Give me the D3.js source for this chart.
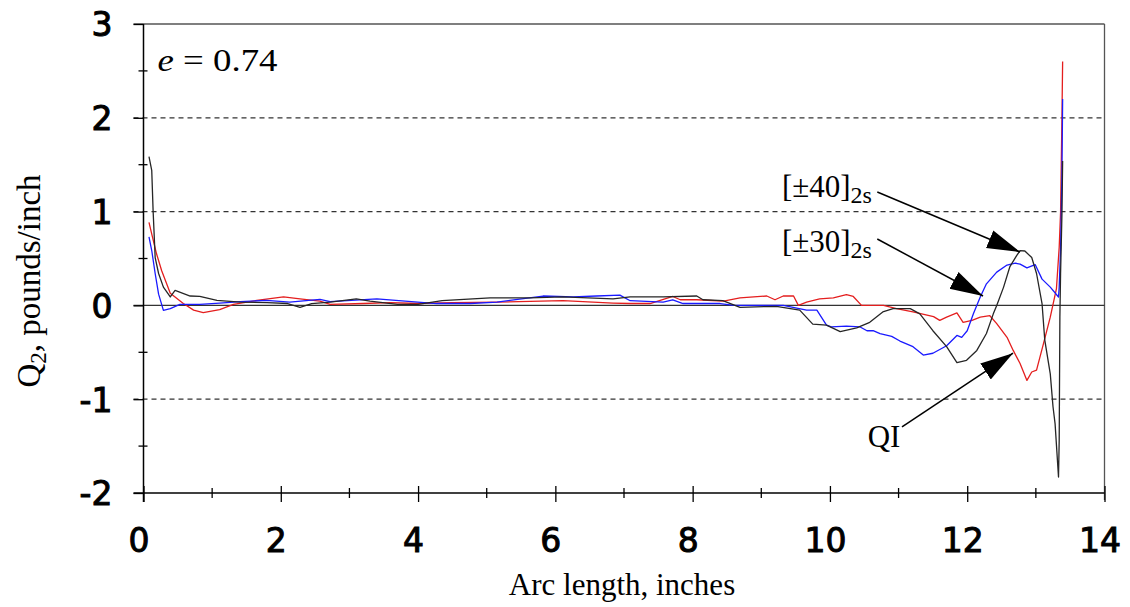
<!DOCTYPE html>
<html>
<head>
<meta charset="utf-8">
<script src="https://cdn.jsdelivr.net/npm/d3@7/dist/d3.min.js"></script>
<style>
  body { margin: 0; background: #fff; }
  svg { display: block; }
</style>
</head>
<body>
<svg id="chart" width="1130" height="607"></svg>
<script>
// Axis ticks
const xTicks = [0, 2, 4, 6, 8, 10, 12, 14];
const xMinorTicks = [1, 3, 5, 7, 9, 11, 13];
const yTicks = [-2, -1, 0, 1, 2, 3];
const yMinorTicks = [-1.5, -0.5, 0.5, 1.5, 2.5];
const gridValues = [-1, 1, 2];

// Q2 (pounds/inch) along the arc length (inches), one array per laminate
const ply40 = [[0.08,1.585],[0.12,1.44],[0.14,1.01],[0.17,0.51],[0.22,0.34],[0.29,0.195],[0.39,0.09],[0.46,0.16],[0.68,0.10],[0.82,0.096],[1.07,0.053],[1.41,0.035],[1.8,0.03],[2.1,0.02],[2.28,-0.02],[2.45,0.02],[2.72,0.035],[3.1,0.07],[3.3,0.045],[3.7,0.01],[4.0,0.01],[4.35,0.05],[5.05,0.08],[5.63,0.08],[6.11,0.09],[6.84,0.07],[7.09,0.09],[7.57,0.09],[8.06,0.10],[8.15,0.06],[8.44,0.05],[8.69,-0.02],[9.22,-0.01],[9.56,-0.05],[9.75,-0.2],[9.95,-0.21],[10.15,-0.28],[10.39,-0.24],[10.58,-0.18],[10.77,-0.07],[10.92,-0.035],[11.17,-0.035],[11.31,-0.09],[11.5,-0.27],[11.7,-0.44],[11.85,-0.61],[11.99,-0.585],[12.14,-0.48],[12.28,-0.30],[12.38,-0.09],[12.43,0.0],[12.53,0.195],[12.62,0.41],[12.72,0.53],[12.77,0.585],[12.84,0.58],[12.94,0.51],[13.01,0.34],[13.09,0.02],[13.13,-0.37],[13.21,-0.73],[13.25,-1.08],[13.28,-1.26],[13.33,-1.83],[13.34,-1.44],[13.35,-0.12],[13.36,0.34],[13.38,0.975],[13.39,1.54]];

const ply30 = [[0.08,0.73],[0.12,0.585],[0.17,0.34],[0.22,0.12],[0.29,-0.053],[0.39,-0.035],[0.53,0.01],[0.82,0.01],[1.11,0.025],[1.41,0.04],[1.79,0.053],[2.13,0.035],[2.57,0.064],[2.72,0.04],[3.4,0.07],[4.27,0.02],[4.76,0.02],[5.15,0.035],[5.82,0.1],[6.26,0.09],[6.6,0.1],[6.94,0.11],[7.09,0.05],[7.57,0.035],[7.71,0.06],[7.86,0.02],[8.4,0.02],[8.6,0.0],[9.32,0.0],[9.66,-0.05],[9.81,-0.05],[9.95,-0.21],[10.02,-0.23],[10.24,-0.22],[10.44,-0.23],[10.54,-0.27],[10.63,-0.27],[10.73,-0.30],[10.9,-0.33],[11.02,-0.38],[11.21,-0.44],[11.36,-0.53],[11.5,-0.51],[11.7,-0.43],[11.85,-0.32],[11.92,-0.34],[12.0,-0.27],[12.09,-0.09],[12.19,0.09],[12.28,0.23],[12.43,0.355],[12.58,0.43],[12.7,0.45],[12.77,0.44],[12.87,0.40],[12.99,0.435],[13.09,0.28],[13.21,0.195],[13.33,0.09],[13.34,0.195],[13.36,0.6],[13.38,1.4],[13.39,2.2]];

const plyQI = [[0.08,0.886],[0.13,0.73],[0.19,0.55],[0.265,0.37],[0.39,0.13],[0.58,0.02],[0.73,-0.05],[0.87,-0.078],[1.11,-0.046],[1.31,0.01],[1.65,0.053],[2.04,0.09],[2.28,0.07],[2.57,0.046],[2.72,0.01],[3.2,0.02],[3.6,0.03],[4.0,0.02],[4.5,0.03],[5.15,0.035],[6.11,0.05],[6.84,0.025],[7.09,0.02],[7.38,0.02],[7.71,0.095],[7.82,0.06],[8.06,0.06],[8.45,0.045],[8.69,0.08],[9.08,0.10],[9.2,0.06],[9.32,0.10],[9.47,0.10],[9.54,0.0],[9.66,0.035],[9.85,0.07],[10.05,0.08],[10.24,0.115],[10.34,0.095],[10.46,0.0],[10.78,0.0],[10.97,-0.035],[11.21,-0.07],[11.51,-0.12],[11.6,-0.16],[11.7,-0.125],[11.85,-0.08],[11.94,-0.18],[12.07,-0.16],[12.19,-0.125],[12.33,-0.11],[12.43,-0.195],[12.58,-0.34],[12.67,-0.48],[12.77,-0.62],[12.87,-0.80],[12.94,-0.71],[13.01,-0.69],[13.11,-0.41],[13.21,-0.125],[13.30,0.18],[13.34,0.62],[13.36,0.99],[13.38,2.0],[13.39,2.6]];

// Callouts: label anchor, leader start and arrow tip in data units
const calloutLabels = ['[±40]', '[±30]', 'QI'];
const calloutSubs = ['2s', '2s', ''];
const calloutText = [[9.30, 1.156], [9.30, 0.569], [10.55, -1.51]];
const calloutFrom = [[10.69, 1.209], [10.69, 0.708], [11.05, -1.296]];
const calloutTip = [[12.77, 0.569], [12.23, 0.100], [12.667, -0.510]];

const svg = d3.select('#chart');
const x = d3.scaleLinear().domain([0, 14]).range([143.5, 1104.5]);
const y = d3.scaleLinear().domain([-2, 3]).range([493, 24]);

const tickFont = "'DejaVu Sans', sans-serif";
const serif = "'Liberation Serif', 'Times New Roman', serif";

// Frame: top and right edges
svg.append('line').attr('x1', x(0) - 10).attr('x2', x(14)).attr('y1', y(3)).attr('y2', y(3))
  .attr('stroke', '#555').attr('stroke-width', 1.3);
svg.append('line').attr('x1', x(14)).attr('x2', x(14)).attr('y1', y(3)).attr('y2', y(-2) + 7)
  .attr('stroke', '#555').attr('stroke-width', 1.3);

// Dashed gridlines
svg.append('g').selectAll('line').data(gridValues).join('line')
  .attr('x1', x(0) - 10).attr('x2', x(14))
  .attr('y1', d => y(d)).attr('y2', d => y(d))
  .attr('stroke', '#333').attr('stroke-width', 1.2)
  .attr('stroke-dasharray', '5,4');

// Zero line
svg.append('line').attr('x1', x(0) - 10).attr('x2', x(14)).attr('y1', y(0)).attr('y2', y(0))
  .attr('stroke', '#333').attr('stroke-width', 1.3);

// Y axis
const yAxis = svg.append('g').attr('transform', `translate(${x(0)},0)`)
  .call(d3.axisLeft(y).tickValues(yTicks).tickSize(10).tickPadding(21).tickFormat(d3.format('d')));
yAxis.select('.domain').remove();
yAxis.selectAll('.tick line').attr('stroke', '#000').attr('stroke-width', 1.3);
yAxis.selectAll('.tick text')
  .attr('font-family', tickFont).attr('font-size', 33)
  .attr('fill', '#000').attr('stroke', '#000').attr('stroke-width', 1)
  .attr('dy', '0.36em')
  .text(d => d < 0 ? '-' + Math.abs(d) : d);
svg.append('line').attr('x1', x(0)).attr('x2', x(0)).attr('y1', y(3)).attr('y2', y(-2) + 9)
  .attr('stroke', '#000').attr('stroke-width', 1.5);
svg.append('g').selectAll('line').data(yMinorTicks).join('line')
  .attr('x1', x(0) - 5).attr('x2', x(0) + 4)
  .attr('y1', d => y(d)).attr('y2', d => y(d))
  .attr('stroke', '#000').attr('stroke-width', 1.3);

// X axis
const xAxis = svg.append('g').attr('transform', `translate(0,${y(-2)})`)
  .call(d3.axisBottom(x).tickValues(xTicks).tickSize(9).tickFormat(d3.format('d')));
xAxis.select('.domain').remove();
xAxis.selectAll('.tick line').attr('y1', -7).attr('stroke', '#000').attr('stroke-width', 1.3);
xAxis.selectAll('.tick text')
  .attr('font-family', tickFont).attr('font-size', 33)
  .attr('fill', '#000').attr('stroke', '#000').attr('stroke-width', 1)
  .attr('y', 59).attr('dy', null).attr('dx', -5);
svg.append('line').attr('x1', x(0) - 10).attr('x2', x(14)).attr('y1', y(-2)).attr('y2', y(-2))
  .attr('stroke', '#000').attr('stroke-width', 1.5);
svg.append('g').selectAll('line').data(xMinorTicks).join('line')
  .attr('x1', d => x(d)).attr('x2', d => x(d))
  .attr('y1', y(-2) - 5).attr('y2', y(-2) + 5)
  .attr('stroke', '#000').attr('stroke-width', 1.3);

// Curves
const line = d3.line().x(d => x(d[0])).y(d => y(d[1]));
[[plyQI, '#e41e1e'], [ply30, '#1a1aff'], [ply40, '#262626']].forEach(([data, color]) => {
  svg.append('path').datum(data).attr('d', line)
    .attr('fill', 'none').attr('stroke', color).attr('stroke-width', 1.3)
    .attr('stroke-linejoin', 'round');
});

// Callout arrows
svg.append('defs').append('marker')
  .attr('id', 'head').attr('markerUnits', 'userSpaceOnUse')
  .attr('markerWidth', 36).attr('markerHeight', 22)
  .attr('viewBox', '0 -11 36 22').attr('refX', 33).attr('refY', 0)
  .attr('orient', 'auto')
  .append('path').attr('d', 'M0,-9.5L33,0L0,9.5Z').attr('fill', '#000');

calloutLabels.forEach((label, i) => {
  svg.append('line')
    .attr('x1', x(calloutFrom[i][0])).attr('y1', y(calloutFrom[i][1]))
    .attr('x2', x(calloutTip[i][0])).attr('y2', y(calloutTip[i][1]))
    .attr('stroke', '#000').attr('stroke-width', 1.5)
    .attr('marker-end', 'url(#head)');
  const t = svg.append('text')
    .attr('x', x(calloutText[i][0])).attr('y', y(calloutText[i][1]))
    .attr('font-family', serif).attr('font-size', 31).attr('fill', '#000');
  t.append('tspan').text(label);
  if (calloutSubs[i]) {
    t.append('tspan').attr('font-size', 24).attr('dy', 6).text(calloutSubs[i]);
  }
});

// Eccentricity label
const eLabel = svg.append('text')
  .attr('x', x(0) + 14).attr('y', y(3) + 47)
  .attr('font-family', serif).attr('font-size', 32).attr('fill', '#000')
  .attr('textLength', 120).attr('lengthAdjust', 'spacingAndGlyphs');
eLabel.append('tspan').attr('font-style', 'italic').text('e');
eLabel.append('tspan').text(' = 0.74');

// Axis titles
svg.append('text')
  .attr('x', (x(0) + x(14)) / 2 - 2).attr('y', 595)
  .attr('text-anchor', 'middle')
  .attr('font-family', serif).attr('font-size', 31).attr('fill', '#000')
  .text('Arc length, inches');

const yTitle = svg.append('text')
  .attr('transform', 'translate(40,281) rotate(-90)')
  .attr('text-anchor', 'middle')
  .attr('font-family', serif).attr('font-size', 33).attr('fill', '#000');
yTitle.append('tspan').text('Q');
yTitle.append('tspan').attr('font-size', 23).attr('dy', 6).text('2');
yTitle.append('tspan').attr('dy', -6).text(', pounds/inch');
</script>
</body>
</html>
